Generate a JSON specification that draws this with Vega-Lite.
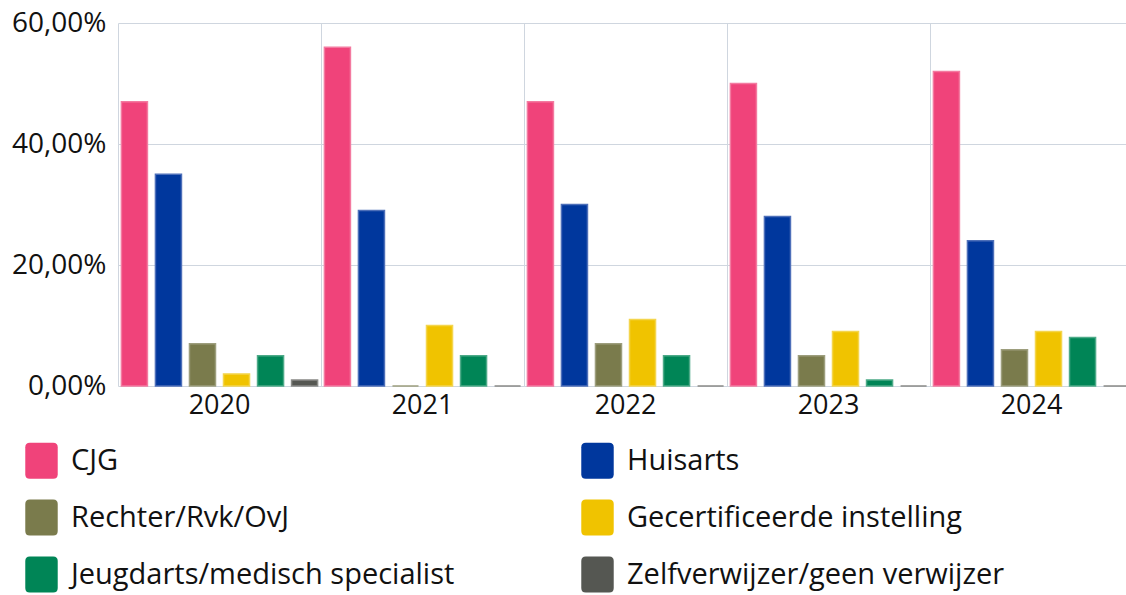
{
  "$schema": "https://vega.github.io/schema/vega-lite/v6.json",
  "width": 1008,
  "height": 363,
  "autosize": {"type": "none"},
  "padding": {"left": 118, "top": 23, "right": 0, "bottom": 209},
  "background": "white",
  "config": {
    "locale": {"number": {"decimal": ",", "thousands": ".", "grouping": [3], "currency": ["€", ""]}},
    "font": "Open Sans",
    "view": {"stroke": null}
  },
  "data": {
    "values": [
      {"jaar": "2020", "verwijzer": "CJG", "aandeel": 0.47},
      {"jaar": "2020", "verwijzer": "Huisarts", "aandeel": 0.35},
      {"jaar": "2020", "verwijzer": "Rechter/Rvk/OvJ", "aandeel": 0.07},
      {"jaar": "2020", "verwijzer": "Gecertificeerde instelling", "aandeel": 0.02},
      {"jaar": "2020", "verwijzer": "Jeugdarts/medisch specialist", "aandeel": 0.05},
      {"jaar": "2020", "verwijzer": "Zelfverwijzer/geen verwijzer", "aandeel": 0.01},
      {"jaar": "2021", "verwijzer": "CJG", "aandeel": 0.56},
      {"jaar": "2021", "verwijzer": "Huisarts", "aandeel": 0.29},
      {"jaar": "2021", "verwijzer": "Rechter/Rvk/OvJ", "aandeel": 0.0},
      {"jaar": "2021", "verwijzer": "Gecertificeerde instelling", "aandeel": 0.10},
      {"jaar": "2021", "verwijzer": "Jeugdarts/medisch specialist", "aandeel": 0.05},
      {"jaar": "2021", "verwijzer": "Zelfverwijzer/geen verwijzer", "aandeel": 0.0},
      {"jaar": "2022", "verwijzer": "CJG", "aandeel": 0.47},
      {"jaar": "2022", "verwijzer": "Huisarts", "aandeel": 0.30},
      {"jaar": "2022", "verwijzer": "Rechter/Rvk/OvJ", "aandeel": 0.07},
      {"jaar": "2022", "verwijzer": "Gecertificeerde instelling", "aandeel": 0.11},
      {"jaar": "2022", "verwijzer": "Jeugdarts/medisch specialist", "aandeel": 0.05},
      {"jaar": "2022", "verwijzer": "Zelfverwijzer/geen verwijzer", "aandeel": 0.0},
      {"jaar": "2023", "verwijzer": "CJG", "aandeel": 0.50},
      {"jaar": "2023", "verwijzer": "Huisarts", "aandeel": 0.28},
      {"jaar": "2023", "verwijzer": "Rechter/Rvk/OvJ", "aandeel": 0.05},
      {"jaar": "2023", "verwijzer": "Gecertificeerde instelling", "aandeel": 0.09},
      {"jaar": "2023", "verwijzer": "Jeugdarts/medisch specialist", "aandeel": 0.01},
      {"jaar": "2023", "verwijzer": "Zelfverwijzer/geen verwijzer", "aandeel": 0.0},
      {"jaar": "2024", "verwijzer": "CJG", "aandeel": 0.52},
      {"jaar": "2024", "verwijzer": "Huisarts", "aandeel": 0.24},
      {"jaar": "2024", "verwijzer": "Rechter/Rvk/OvJ", "aandeel": 0.06},
      {"jaar": "2024", "verwijzer": "Gecertificeerde instelling", "aandeel": 0.09},
      {"jaar": "2024", "verwijzer": "Jeugdarts/medisch specialist", "aandeel": 0.08},
      {"jaar": "2024", "verwijzer": "Zelfverwijzer/geen verwijzer", "aandeel": 0.0}
    ]
  },
  "mark": {"type": "bar", "strokeWidth": 1.5},
  "encoding": {
    "x": {
      "field": "jaar",
      "type": "nominal",
      "scale": {"range": [0, 1015], "paddingInner": 0, "paddingOuter": 0},
      "axis": {
        "title": null,
        "labelAngle": 0,
        "labelFontSize": 27,
        "labelColor": "#111111",
        "labelPadding": 6,
        "ticks": false,
        "domain": false,
        "grid": true,
        "bandPosition": 0,
        "gridColor": "#cfd6df",
        "gridWidth": 1
      }
    },
    "xOffset": {
      "field": "verwijzer",
      "type": "nominal",
      "sort": ["CJG", "Huisarts", "Rechter/Rvk/OvJ", "Gecertificeerde instelling", "Jeugdarts/medisch specialist", "Zelfverwijzer/geen verwijzer"],
      "scale": {"paddingInner": 0.235, "paddingOuter": 0.1}
    },
    "y": {
      "field": "aandeel",
      "type": "quantitative",
      "scale": {"domain": [0, 0.6], "nice": false},
      "axis": {
        "title": null,
        "values": [0, 0.2, 0.4, 0.6],
        "format": ".2%",
        "labelFontSize": 28,
        "labelColor": "#111111",
        "labelPadding": 12,
        "ticks": false,
        "domain": false,
        "gridColor": "#cfd6df",
        "gridWidth": 1
      }
    },
    "color": {
      "field": "verwijzer",
      "type": "nominal",
      "sort": ["CJG", "Huisarts", "Rechter/Rvk/OvJ", "Gecertificeerde instelling", "Jeugdarts/medisch specialist", "Zelfverwijzer/geen verwijzer"],
      "scale": {
        "domain": ["CJG", "Huisarts", "Rechter/Rvk/OvJ", "Gecertificeerde instelling", "Jeugdarts/medisch specialist", "Zelfverwijzer/geen verwijzer"],
        "range": ["#f0437a", "#00379d", "#7a7b4c", "#f0c300", "#008556", "#555752"]
      },
      "legend": {
        "title": null,
        "orient": "none",
        "direction": "horizontal",
        "legendX": -95,
        "legendY": 419,
        "columns": 2,
        "columnPadding": 124,
        "rowPadding": 20,
        "symbolType": "M-0.9,-0.75Q-0.9,-1,-0.65,-1L0.65,-1Q0.9,-1,0.9,-0.75L0.9,0.75Q0.9,1,0.65,1L-0.65,1Q-0.9,1,-0.9,0.75Z",
        "symbolSize": 1300,
        "symbolStrokeWidth": 0,
        "symbolOpacity": 1,
        "labelFontSize": 29,
        "labelColor": "#111111",
        "labelOffset": 11,
        "labelLimit": 500
      }
    },
    "stroke": {
      "field": "verwijzer",
      "type": "nominal",
      "scale": {
        "domain": ["CJG", "Huisarts", "Rechter/Rvk/OvJ", "Gecertificeerde instelling", "Jeugdarts/medisch specialist", "Zelfverwijzer/geen verwijzer"],
        "range": ["#f37aa0", "#4d6fb9", "#9d9e7d", "#f4d54d", "#4daa88", "#8a8b88"]
      },
      "legend": null
    }
  }
}
